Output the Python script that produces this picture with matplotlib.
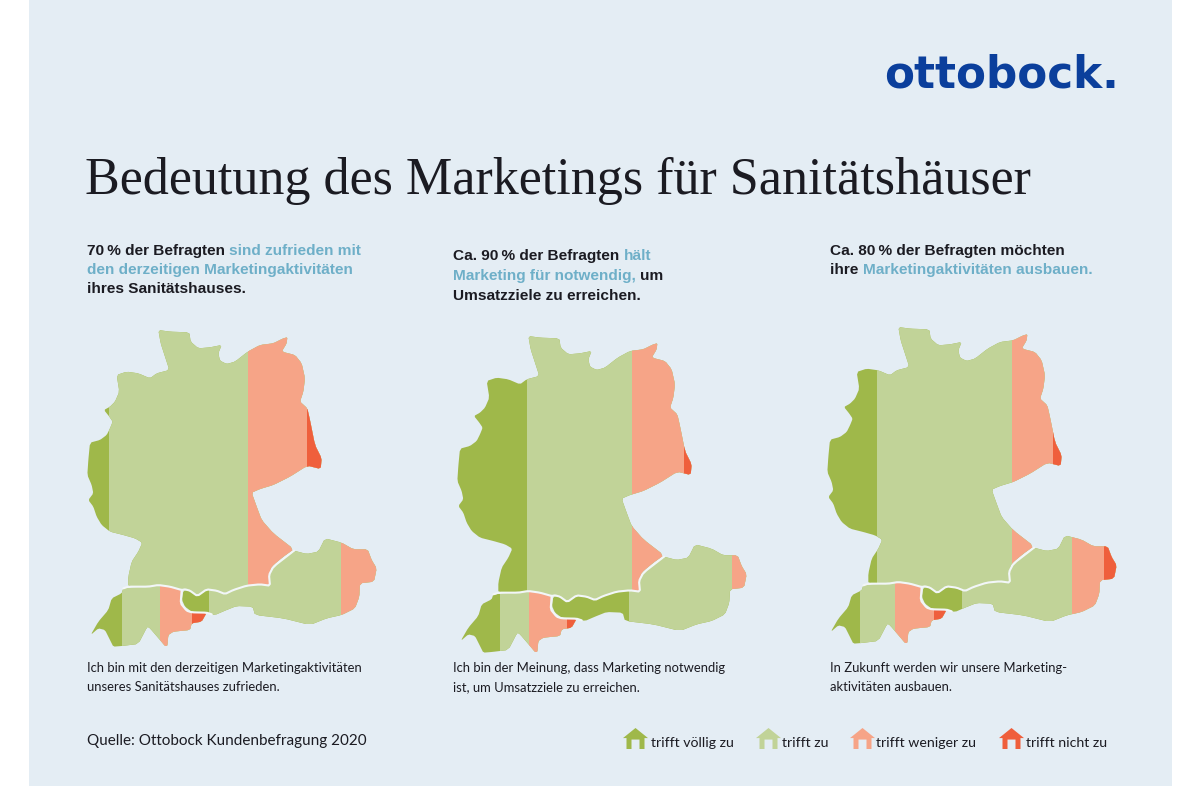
import numpy as np
import matplotlib
matplotlib.use("Agg")
import matplotlib.pyplot as plt
from matplotlib.patches import Polygon, Rectangle

BG = "#e4edf4"
INK = "#1b1b22"
ACCENT = "#6eafc8"
LOGO = "#0b3f9c"
colors = ["#9fb84a", "#c1d398", "#f6a487", "#ef5f3c"]
answers = ["trifft völlig zu", "trifft zu", "trifft weniger zu", "trifft nicht zu"]

# answer shares in percent per map: völlig zu, zu, weniger zu, nicht zu
germany = [[9.4, 59.0, 25.5, 6.1], [29.9, 44.7, 22.2, 3.2], [21.1, 57.9, 17.2, 3.8]]
austria = [[13.8, 68.1, 18.1, 0.0], [39.8, 52.6, 7.6, 0.0], [20.7, 56.4, 16.4, 6.5]]
swiss = [[26.7, 33.0, 27.3, 13.0], [34.2, 24.4, 33.3, 8.1], [25.3, 30.5, 33.0, 11.2]]

title = "Bedeutung des Marketings für Sanitätshäuser"
headings = [
    [[("70\u2009% der Befragten ", INK), ("sind zufrieden mit", ACCENT)],
     [("den derzeitigen Marketingaktivitäten", ACCENT)],
     [("ihres Sanitätshauses.", INK)]],
    [[("Ca. 90\u2009% der Befragten ", INK), ("hält", ACCENT)],
     [("Marketing für notwendig, ", ACCENT), ("um", INK)],
     [("Umsatzziele zu erreichen.", INK)]],
    [[("Ca. 80\u2009% der Befragten möchten", INK)],
     [("ihre ", INK), ("Marketingaktivitäten ausbauen.", ACCENT)]],
]
captions = [
    ["Ich bin mit den derzeitigen Marketingaktivitäten", "unseres Sanitätshauses zufrieden."],
    ["Ich bin der Meinung, dass Marketing notwendig", "ist, um Umsatzziele zu erreichen."],
    ["In Zukunft werden wir unsere Marketing-", "aktivitäten ausbauen."],
]
source = "Quelle: Ottobock Kundenbefragung 2020"

de_outline = np.array([
    (265, 30), (300, 35), (358, 37), (362, 65), (385, 85), (420, 82), (455, 75), (445, 100), (450, 122),
    (470, 132), (495, 125), (533, 95), (570, 75), (610, 70), (640, 55), (652, 52), (650, 70), (635, 95),
    (675, 105), (695, 130), (705, 175), (700, 215), (690, 245), (712, 265), (720, 300), (735, 375),
    (755, 415), (752, 447), (712, 437), (660, 470), (610, 495), (570, 507), (545, 518), (560, 560),
    (575, 600), (610, 640), (672, 688), (640, 710), (605, 740), (597, 765), (600, 797), (570, 793),
    (530, 797), (490, 810), (465, 822), (440, 812), (410, 808), (382, 828), (360, 812), (335, 810),
    (300, 800), (265, 795), (235, 800), (175, 800), (175, 770), (185, 725), (205, 695), (217, 668),
    (195, 655), (160, 645), (120, 635), (95, 615), (80, 590), (70, 560), (55, 540), (70, 520), (65, 495),
    (52, 465), (55, 420), (60, 368), (90, 360), (110, 345), (120, 325), (128, 305), (118, 290), (102, 270),
    (120, 260), (135, 245), (148, 215), (140, 165), (170, 155), (205, 160), (240, 175), (260, 160),
    (298, 150), (285, 110), (272, 70)], dtype=float)
at_outline = np.array([
    (340, 812), (360, 812), (382, 828), (410, 808), (440, 812), (465, 822), (490, 810), (530, 797),
    (570, 793), (600, 797), (597, 765), (610, 740), (672, 692), (710, 702), (745, 695), (765, 655),
    (815, 668), (850, 688), (893, 688), (905, 720), (920, 745), (912, 785), (870, 790), (868, 830),
    (855, 865), (815, 885), (770, 895), (720, 915), (640, 895), (555, 885), (548, 860), (500, 858),
    (465, 872), (435, 885), (410, 878), (365, 875), (345, 860), (336, 840)], dtype=float)
ch_outline = np.array([
    (160, 805), (235, 800), (265, 795), (300, 800), (335, 810), (332, 850), (350, 872), (365, 877),
    (410, 878), (395, 905), (365, 910), (360, 930), (310, 935), (295, 945), (292, 978), (285, 978),
    (270, 960), (240, 925), (232, 920), (205, 972), (155, 978), (130, 980), (120, 960), (105, 930),
    (85, 925), (62, 945), (85, 905), (115, 870), (125, 835), (155, 820)], dtype=float)
de_at_border = np.array([
    (160, 805), (175, 800), (235, 800), (265, 795), (300, 800), (335, 810), (345, 808), (360, 812),
    (382, 828), (410, 808), (440, 812), (465, 822), (490, 810), (530, 797), (570, 793), (600, 797),
    (597, 765), (610, 740), (672, 692)], dtype=float)
ch_at_border = np.array([
    (335, 810), (332, 850), (350, 872), (365, 877), (410, 878), (425, 883)], dtype=float)

map_offsets = [(0, 0), (370, 6), (740, -3)]
heading_x = [87, 453, 830]
heading_y = [[251, 270, 289], [256, 276, 296], [251, 270]]
legend_house_x = [623, 756, 850, 999]
legend_text_x = [651, 782, 876, 1026]


def smooth(points, closed=True):
    # one light pass of corner cutting so the outlines do not look faceted
    if closed:
        nxt = np.roll(points, -1, axis=0)
        return np.column_stack([0.85 * points + 0.15 * nxt, 0.15 * points + 0.85 * nxt]).reshape(-1, 2)
    nxt = points[1:]
    cur = points[:-1]
    mid = np.column_stack([0.85 * cur + 0.15 * nxt, 0.15 * cur + 0.85 * nxt]).reshape(-1, 2)
    return np.vstack([points[0], mid, points[-1]])


def to_page(points, offset):
    return points / 3 + np.array([70 + offset[0], 320 + offset[1]])


def draw_country(ax, outline, shares, offset):
    shape = Polygon(to_page(smooth(outline), offset), closed=True, facecolor="none", edgecolor="none")
    ax.add_patch(shape)
    left = outline[:, 0].min()
    width = outline[:, 0].max() - left
    edges = left + width * np.concatenate([[0], np.cumsum(shares)]) / 100
    edges = edges / 3 + 70 + offset[0]
    for start, share, color in zip(edges[:-1], shares, colors):
        if share == 0:
            continue
        band = Rectangle((start, 300), edges[-1] + 5 - start, 400, facecolor=color, edgecolor="none")
        ax.add_patch(band)
        band.set_clip_path(shape)


def draw_house(ax, x, y, color):
    w, h = 25, 21
    xs = np.array([0, .5, 1, .86, .86, .66, .66, .34, .34, .14, .14])
    ys = np.array([.48, 0, .48, .48, 1, 1, .55, .55, 1, 1, .48])
    ax.add_patch(Polygon(np.column_stack([x + xs * w, y + ys * h]), closed=True, facecolor=color, edgecolor="none"))


def draw_line(ax, fig, x, y, pieces, **kw):
    renderer = fig.canvas.get_renderer()
    for text, color in pieces:
        ax.text(x, y, text, color=color, va="center", ha="left", **kw)
        # keep the trailing space in the measure
        w = ax.text(0, 0, text.replace(" ", "\u00a0"), alpha=0, **kw)
        x += w.get_window_extent(renderer).width
        w.remove()


fig = plt.figure(figsize=(12, 8), dpi=100, facecolor="white")
ax = fig.add_axes([0, 0, 1, 1])
ax.set_xlim(0, 1200)
ax.set_ylim(800, 0)
ax.axis("off")
ax.add_patch(Rectangle((29, 0), 1143, 786, facecolor=BG, edgecolor="none"))

ax.text(884, 75, "ottobock.", color=LOGO, family="DejaVu Sans", weight="bold", fontsize=31.5, va="center", ha="left")
ax.text(85, 181, title, color=INK, family="Liberation Serif", fontsize=37.5, va="center", ha="left")

for i, offset in enumerate(map_offsets):
    draw_country(ax, de_outline, germany[i], offset)
    draw_country(ax, at_outline, austria[i], offset)
    draw_country(ax, ch_outline, swiss[i], offset)
    for border in (de_at_border, ch_at_border):
        pts = to_page(smooth(border, closed=False), offset)
        ax.plot(pts[:, 0], pts[:, 1], color="#f2f6f8", lw=1.5, solid_capstyle="round")
    for y, pieces in zip(heading_y[i], headings[i]):
        draw_line(ax, fig, heading_x[i], y, pieces, family=["Liberation Sans", "DejaVu Sans"], weight="bold", fontsize=11.1)
    for y, line in zip((668, 687), captions[i]):
        ax.text(heading_x[i], y, line, color=INK, family="Lato", fontsize=9.4, va="center", ha="left")

ax.text(87, 741, source, color=INK, family="Lato", fontsize=11, va="center", ha="left")
for hx, tx, label, color in zip(legend_house_x, legend_text_x, answers, colors):
    draw_house(ax, hx, 728, color)
    ax.text(tx, 743, label, color=INK, family="Lato", fontsize=10.2, va="center", ha="left")

fig.savefig("out.png", dpi=100)
